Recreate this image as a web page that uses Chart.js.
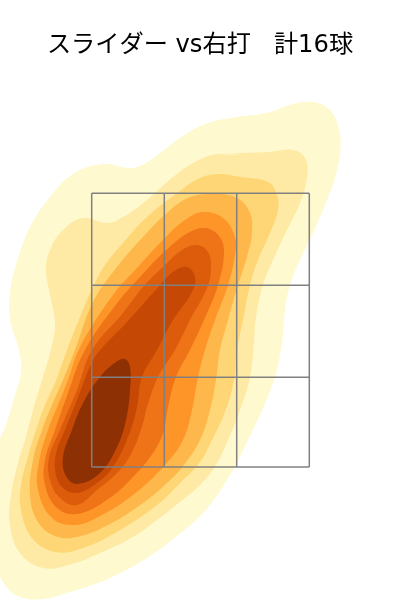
<!DOCTYPE html>
<html>
<head>
<meta charset="utf-8">
<script src="https://cdn.jsdelivr.net/npm/chart.js@4"></script>
<style>
    body { margin: 0; background: #fff; }
    canvas { display: block; }
</style>
</head>
<body>
<canvas id="myChart" width="400" height="600"></canvas>
<script>
const titleText = "スライダー vs右打   計16球";

// zone grid lines
const gridX = [91.7, 164.3, 236.7, 309.3];
const gridY = [193.3, 285.3, 377.3, 467];

// density contours, lightest (widest) first
const level1 = [[313,102],[330,110],[339,130],[340,153],[335,178],[327,200],[313,233],[300,260],[290,285],[285,310],[282,343],[275,377],[263,408],[248,440],[230,475],[205,511],[178,535],[150,556],[110,578],[70,592],[43,599],[20,597],[5,585],[-3,565],[-4,500],[-2,445],[6,425],[14,398],[21,373],[19,350],[10,320],[10,293],[15,268],[30,227],[50,197],[73,174],[103,164],[132,168],[152,159],[177,140],[205,124],[237,117],[267,113],[293,104]];
const level2 = [[247,155],[270,152],[293,150],[305,158],[307,177],[300,203],[287,230],[273,260],[263,285],[256,317],[254,343],[250,377],[240,410],[228,440],[216,465],[200,485],[180,502],[157,520],[133,537],[100,553],[72,564],[43,568],[20,553],[10,525],[11,495],[18,463],[25,440],[35,403],[43,377],[52,345],[55,323],[50,295],[46,270],[50,250],[63,230],[83,218],[107,223],[123,217],[147,200],[173,177],[195,162],[217,154]];
const level3 = [[217,174],[240,177],[268,182],[277,195],[278,210],[270,233],[258,260],[250,285],[243,320],[237,350],[234,380],[225,412],[212,440],[200,462],[180,483],[157,505],[120,530],[83,548],[55,552],[32,538],[21,510],[21,485],[27,460],[36,430],[45,405],[55,383],[67,350],[80,317],[93,287],[105,265],[123,243],[147,217],[180,191],[198,179]];
const level4 = [[213,194],[237,198],[250,213],[252,233],[248,253],[243,270],[237,288],[228,320],[220,350],[216,380],[210,410],[200,440],[183,466],[167,483],[143,503],[110,524],[77,537],[55,536],[38,522],[30,495],[33,460],[42,430],[52,405],[63,380],[75,350],[93,302],[117,267],[143,237],[167,213],[188,198]];
const level5 = [[203,212],[223,218],[235,237],[235,255],[228,285],[215,320],[205,350],[198,377],[192,410],[183,440],[164,466],[133,495],[100,516],[75,525],[52,518],[38,490],[39,462],[48,430],[58,405],[68,380],[80,347],[113,295],[137,268],[163,240],[185,220]];
const level6 = [[205,228],[219,236],[224,252],[218,285],[204,320],[190,350],[176,377],[168,407],[163,433],[153,453],[133,477],[107,500],[77,514],[57,508],[45,485],[45,460],[55,430],[68,393],[85,350],[118,302],[140,277],[163,253],[188,233]];
const level7 = [[197,245],[208,252],[211,268],[207,288],[190,320],[175,350],[158,377],[147,407],[143,423],[133,450],[120,470],[97,490],[77,505],[60,498],[50,480],[49,458],[60,430],[77,390],[92,350],[123,313],[143,287],[163,267],[182,250]];
const level8 = [[187,267],[195,277],[192,292],[173,320],[157,350],[142,377],[137,407],[128,437],[113,467],[97,483],[77,493],[62,487],[55,470],[57,450],[65,430],[77,400],[92,362],[102,348],[127,322],[153,293],[173,272]];
const level9 = [[125,359],[130,367],[130,390],[126,420],[117,447],[100,473],[77,484],[66,476],[63,457],[72,430],[83,403],[100,377],[116,362]];

const levels = [level1, level2, level3, level4, level5, level6, level7, level8, level9];
const levelColors = ["#fff9d0", "#feeaa4", "#fed676", "#feb74a", "#fe9528", "#ee7417", "#dc5c0c", "#c54805", "#8d3004"];

function toPoints(level) {
    // wrap around a bit so the curve has no corner where it closes
    const wrapped = [level[level.length - 1], ...level, level[0], level[1]];
    return wrapped.map(p => ({ x: p[0], y: p[1] }));
}

const datasets = [];

// grid goes first because chart.js paints the first dataset on top
gridX.forEach(x => {
    datasets.push({
        data: [{ x: x, y: gridY[0] }, { x: x, y: gridY[3] }],
        borderColor: "#808080",
        borderWidth: 1.5,
        pointRadius: 0
    });
});
gridY.forEach(y => {
    datasets.push({
        data: [{ x: gridX[0], y: y }, { x: gridX[3], y: y }],
        borderColor: "#808080",
        borderWidth: 1.5,
        pointRadius: 0
    });
});

for (let i = levels.length - 1; i >= 0; i--) {
    datasets.push({
        data: toPoints(levels[i]),
        borderWidth: 0,
        borderColor: levelColors[i],
        backgroundColor: levelColors[i],
        fill: "shape",
        tension: 0.4,
        pointRadius: 0
    });
}

new Chart(document.getElementById("myChart"), {
    type: "line",
    data: { datasets: datasets },
    options: {
        responsive: false,
        animation: false,
        layout: { padding: 0 },
        plugins: {
            legend: { display: false },
            tooltip: { enabled: false },
            title: {
                display: true,
                text: titleText,
                color: "#000",
                font: { family: "'DejaVu Sans', 'Noto Sans CJK JP'", size: 24.2, weight: "normal", lineHeight: 1 },
                padding: { top: 33.8, bottom: 26 }
            }
        },
        scales: {
            // title takes the top 84px, so the y axis starts there
            x: { type: "linear", display: false, min: 0, max: 400 },
            y: { type: "linear", display: false, reverse: true, min: 84, max: 600 }
        }
    }
});
</script>
</body>
</html>
